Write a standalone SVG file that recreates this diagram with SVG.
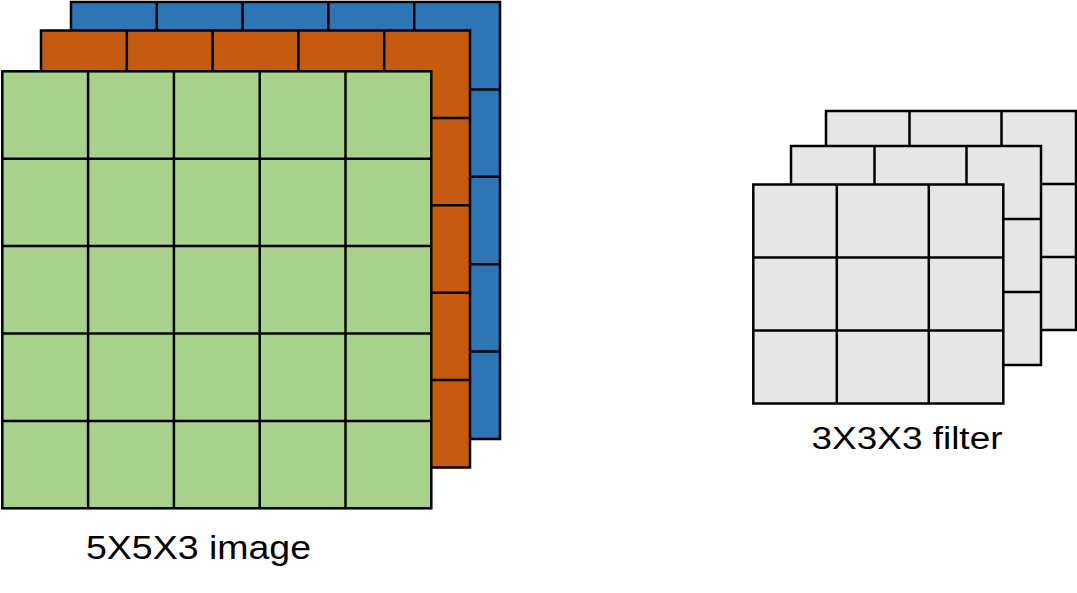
<svg xmlns="http://www.w3.org/2000/svg" width="1077" height="593" viewBox="0 0 1077 593">
<style>
.cell{stroke:#000;stroke-width:2.5;}
.grid{fill:none;stroke:#000;stroke-width:2.5;}
.blue{fill:#2E75B6;}
.orange{fill:#C55A11;}
.green{fill:#A9D18E;}
.grey{fill:#E6E6E6;}
.lbl{font-family:"Liberation Sans",Arial,sans-serif;fill:#000;}
</style>
<rect width="1077" height="593" fill="#fff"/>
<g id="image-blue">
<rect class="cell blue" x="71" y="2" width="429" height="437"/>
<path class="grid" d="M156.8 2V439M242.6 2V439M328.4 2V439M414.2 2V439M71 89.4H500M71 176.8H500M71 264.2H500M71 351.6H500"/>
</g>
<g id="image-orange">
<rect class="cell orange" x="41" y="30.5" width="429" height="437"/>
<path class="grid" d="M126.8 30.5V467.5M212.6 30.5V467.5M298.4 30.5V467.5M384.2 30.5V467.5M41 117.9H470M41 205.3H470M41 292.7H470M41 380.1H470"/>
</g>
<g id="image-green">
<rect class="cell green" x="2.3" y="71.3" width="429" height="437"/>
<path class="grid" d="M88.1 71.3V508.3M173.9 71.3V508.3M259.7 71.3V508.3M345.5 71.3V508.3M2.3 158.7H431.3M2.3 246.1H431.3M2.3 333.5H431.3M2.3 420.9H431.3"/>
</g>
<g id="filter-back">
<rect class="cell grey" x="826" y="111" width="250" height="219"/>
<path class="grid" d="M909.5 111V330M1001.5 111V330M826 184H1076M826 257H1076"/>
</g>
<g id="filter-middle">
<rect class="cell grey" x="791" y="146" width="250" height="219"/>
<path class="grid" d="M874.5 146V365M966.5 146V365M791 219H1041M791 292H1041"/>
</g>
<g id="filter-front">
<rect class="cell grey" x="753.3" y="184.5" width="250" height="219"/>
<path class="grid" d="M836.8 184.5V403.5M928.8 184.5V403.5M753.3 257.5H1003.3M753.3 330.5H1003.3"/>
</g>
<g id="labels">
<text class="lbl" x="86" y="559" font-size="34" textLength="225" lengthAdjust="spacingAndGlyphs">5X5X3 image</text>
<text class="lbl" x="811.5" y="449.3" font-size="31" textLength="191" lengthAdjust="spacingAndGlyphs">3X3X3 filter</text>
</g>
</svg>
